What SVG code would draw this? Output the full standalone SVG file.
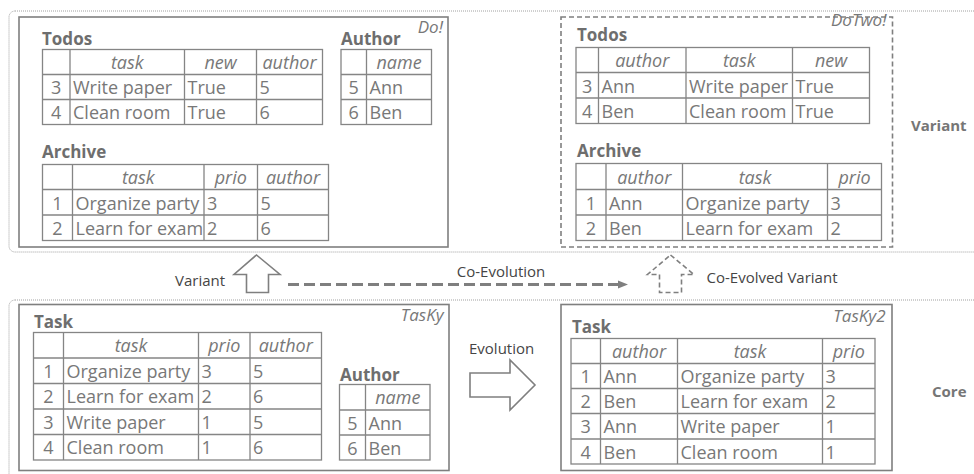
<svg xmlns="http://www.w3.org/2000/svg" width="974" height="474" viewBox="0 0 974 474">
<defs>
<style>
.region{fill:none;stroke:#a0a0a0;stroke-width:1;stroke-dasharray:1,1}
.box{fill:none;stroke:#7f7f7f;stroke-width:1.6}
.dbox{fill:none;stroke:#7f7f7f;stroke-width:1.6;stroke-dasharray:5,3}
.grid{fill:none;stroke:#858585;stroke-width:1.3}
text{font-family:"Open Sans","Liberation Sans",sans-serif;fill:#787878}
.c{font-size:18px}
.n{font-size:18px;text-anchor:middle}
.h{font-size:18px;font-style:italic;text-anchor:middle}
.t{font-size:17px;font-weight:bold;fill:#6e6e6e}
.nm{font-size:17px;font-style:italic;text-anchor:end}
.lab{font-size:15px;fill:#454545}
.side{font-size:15px;font-weight:bold;fill:#767676}
.harrow{fill:#fff;stroke:#7f7f7f;stroke-width:1.6;stroke-linejoin:miter}
.dharrow{fill:#fff;stroke:#7f7f7f;stroke-width:1.6;stroke-dasharray:5,3}
.coev{fill:none;stroke:#7f7f7f;stroke-width:3;stroke-dasharray:11,5}
</style>
<marker id="ah" markerUnits="userSpaceOnUse" markerWidth="12" markerHeight="10" refX="0" refY="5" orient="auto">
<path d="M0,1 L10,5 L0,9 Z" fill="#7f7f7f"/>
</marker>
</defs>
<rect width="974" height="474" fill="#fff"/>

<g id="regions">
<rect class="region" x="9" y="11" width="1000" height="241" rx="6"/>
<rect class="region" x="9" y="300" width="1000" height="220" rx="6"/>
<text class="side" x="911" y="131">Variant</text>
<text class="side" x="932" y="397">Core</text>
</g>

<g id="do">
<rect class="box" x="19" y="17" width="429" height="230"/>
<text class="nm" x="443" y="33">Do!</text>
<g id="do-todos">
<text class="t" x="42" y="45">Todos</text>
<rect class="grid" x="42.5" y="49.5" width="280" height="75"/>
<path class="grid" d="M70,49.5V124.5M184.5,49.5V124.5M256.5,49.5V124.5M42.5,74.5H322.5M42.5,99.5H322.5"/>
<text class="h" x="127.25" y="69">task</text><text class="h" x="220.5" y="69">new</text><text class="h" x="289.5" y="69">author</text>
<text class="n" x="56.25" y="94">3</text><text class="c" x="73" y="94">Write paper</text><text class="c" x="187.5" y="94">True</text><text class="c" x="259.5" y="94">5</text>
<text class="n" x="56.25" y="119">4</text><text class="c" x="73" y="119">Clean room</text><text class="c" x="187.5" y="119">True</text><text class="c" x="259.5" y="119">6</text>
</g>
<g id="do-author">
<text class="t" x="341" y="45">Author</text>
<rect class="grid" x="341" y="49.5" width="90.5" height="75"/>
<path class="grid" d="M366.5,49.5V124.5M341,74.5H431.5M341,99.5H431.5"/>
<text class="h" x="399" y="69">name</text>
<text class="n" x="353.75" y="94">5</text><text class="c" x="369.5" y="94">Ann</text>
<text class="n" x="353.75" y="119">6</text><text class="c" x="369.5" y="119">Ben</text>
</g>
<g id="do-archive">
<text class="t" x="42" y="158">Archive</text>
<rect class="grid" x="42.5" y="164.5" width="286" height="76"/>
<path class="grid" d="M72.5,164.5V240.5M204,164.5V240.5M257.5,164.5V240.5M42.5,189.5H328.5M42.5,215H328.5"/>
<text class="h" x="138.25" y="184">task</text><text class="h" x="230.75" y="184">prio</text><text class="h" x="293" y="184">author</text>
<text class="n" x="57.5" y="209.5">1</text><text class="c" x="75.5" y="209.5">Organize party</text><text class="c" x="207" y="209.5">3</text><text class="c" x="260.5" y="209.5">5</text>
<text class="n" x="57.5" y="235">2</text><text class="c" x="75.5" y="235">Learn for exam</text><text class="c" x="207" y="235">2</text><text class="c" x="260.5" y="235">6</text>
</g>
</g>

<g id="dotwo">
<rect class="dbox" x="561" y="17" width="331.5" height="230"/>
<text class="nm" x="886.5" y="26">DoTwo!</text>
<g id="dotwo-todos">
<text class="t" x="577" y="40.5">Todos</text>
<rect class="grid" x="576" y="47.5" width="293.5" height="76"/>
<path class="grid" d="M598.5,47.5V123.5M686,47.5V123.5M792.5,47.5V123.5M576,72.5H869.5M576,98H869.5"/>
<text class="h" x="642.25" y="67">author</text><text class="h" x="739.25" y="67">task</text><text class="h" x="831" y="67">new</text>
<text class="n" x="587.25" y="92.5">3</text><text class="c" x="601.5" y="92.5">Ann</text><text class="c" x="689" y="92.5">Write paper</text><text class="c" x="795.5" y="92.5">True</text>
<text class="n" x="587.25" y="118">4</text><text class="c" x="601.5" y="118">Ben</text><text class="c" x="689" y="118">Clean room</text><text class="c" x="795.5" y="118">True</text>
</g>
<g id="dotwo-archive">
<text class="t" x="577" y="156.5">Archive</text>
<rect class="grid" x="576" y="163.5" width="305.5" height="77"/>
<path class="grid" d="M606,163.5V240.5M682.5,163.5V240.5M827.5,163.5V240.5M576,189.5H881.5M576,215H881.5"/>
<text class="h" x="644.25" y="183.5">author</text><text class="h" x="755" y="183.5">task</text><text class="h" x="854.5" y="183.5">prio</text>
<text class="n" x="591" y="209.5">1</text><text class="c" x="609" y="209.5">Ann</text><text class="c" x="685.5" y="209.5">Organize party</text><text class="c" x="830.5" y="209.5">3</text>
<text class="n" x="591" y="235">2</text><text class="c" x="609" y="235">Ben</text><text class="c" x="685.5" y="235">Learn for exam</text><text class="c" x="830.5" y="235">2</text>
</g>
</g>

<g id="tasky">
<rect class="box" x="19" y="304.5" width="430" height="166"/>
<text class="nm" x="443.5" y="321">TasKy</text>
<g id="tasky-task">
<text class="t" x="34" y="328">Task</text>
<rect class="grid" x="33.5" y="332.5" width="288" height="127.5"/>
<path class="grid" d="M63.5,332.5V460M198.5,332.5V460M250,332.5V460M33.5,358H321.5M33.5,383.5H321.5M33.5,409H321.5M33.5,434.5H321.5"/>
<text class="h" x="131" y="352">task</text><text class="h" x="224.25" y="352">prio</text><text class="h" x="285.75" y="352">author</text>
<text class="n" x="48.5" y="377.5">1</text><text class="c" x="66.5" y="377.5">Organize party</text><text class="c" x="201.5" y="377.5">3</text><text class="c" x="253" y="377.5">5</text>
<text class="n" x="48.5" y="403">2</text><text class="c" x="66.5" y="403">Learn for exam</text><text class="c" x="201.5" y="403">2</text><text class="c" x="253" y="403">6</text>
<text class="n" x="48.5" y="428.5">3</text><text class="c" x="66.5" y="428.5">Write paper</text><text class="c" x="201.5" y="428.5">1</text><text class="c" x="253" y="428.5">5</text>
<text class="n" x="48.5" y="454">4</text><text class="c" x="66.5" y="454">Clean room</text><text class="c" x="201.5" y="454">1</text><text class="c" x="253" y="454">6</text>
</g>
<g id="tasky-author">
<text class="t" x="340" y="381">Author</text>
<rect class="grid" x="339.5" y="384.5" width="90.5" height="75.5"/>
<path class="grid" d="M365.5,384.5V460M339.5,410H430M339.5,435H430"/>
<text class="h" x="397.75" y="404">name</text>
<text class="n" x="352.5" y="429.5">5</text><text class="c" x="368.5" y="429.5">Ann</text>
<text class="n" x="352.5" y="454.5">6</text><text class="c" x="368.5" y="454.5">Ben</text>
</g>
</g>

<g id="tasky2">
<rect class="box" x="561" y="304.5" width="331" height="166"/>
<text class="nm" x="885.5" y="322">TasKy2</text>
<g id="tasky2-task">
<text class="t" x="572" y="333">Task</text>
<rect class="grid" x="571" y="338.5" width="304" height="125.5"/>
<path class="grid" d="M600.5,338.5V464M677.5,338.5V464M822.5,338.5V464M571,363.5H875M571,388.5H875M571,413.5H875M571,439H875"/>
<text class="h" x="639" y="358">author</text><text class="h" x="750" y="358">task</text><text class="h" x="848.75" y="358">prio</text>
<text class="n" x="585.75" y="383">1</text><text class="c" x="603.5" y="383">Ann</text><text class="c" x="680.5" y="383">Organize party</text><text class="c" x="825.5" y="383">3</text>
<text class="n" x="585.75" y="408">2</text><text class="c" x="603.5" y="408">Ben</text><text class="c" x="680.5" y="408">Learn for exam</text><text class="c" x="825.5" y="408">2</text>
<text class="n" x="585.75" y="433">3</text><text class="c" x="603.5" y="433">Ann</text><text class="c" x="680.5" y="433">Write paper</text><text class="c" x="825.5" y="433">1</text>
<text class="n" x="585.75" y="458.5">4</text><text class="c" x="603.5" y="458.5">Ben</text><text class="c" x="680.5" y="458.5">Clean room</text><text class="c" x="825.5" y="458.5">1</text>
</g>
</g>

<g id="connectors">
<polygon class="harrow" points="256.5,255 280,274.5 268.5,274.5 268.5,292.5 246.5,292.5 246.5,274.5 234,274.5"/>
<text class="lab" x="175" y="286">Variant</text>
<line class="coev" x1="288" y1="284.5" x2="618" y2="284.5" marker-end="url(#ah)"/>
<text class="lab" x="501" y="276.5" text-anchor="middle">Co-Evolution</text>
<polygon class="dharrow" points="670.5,255 694,274.5 681.5,274.5 681.5,292.5 659.5,292.5 659.5,274.5 647.5,274.5"/>
<text class="lab" x="706.5" y="283">Co-Evolved Variant</text>
<polygon class="harrow" points="470,373 510,373 510,360 535,385 510,410 510,397 470,397"/>
<text class="lab" x="469" y="354">Evolution</text>
</g>
</svg>
